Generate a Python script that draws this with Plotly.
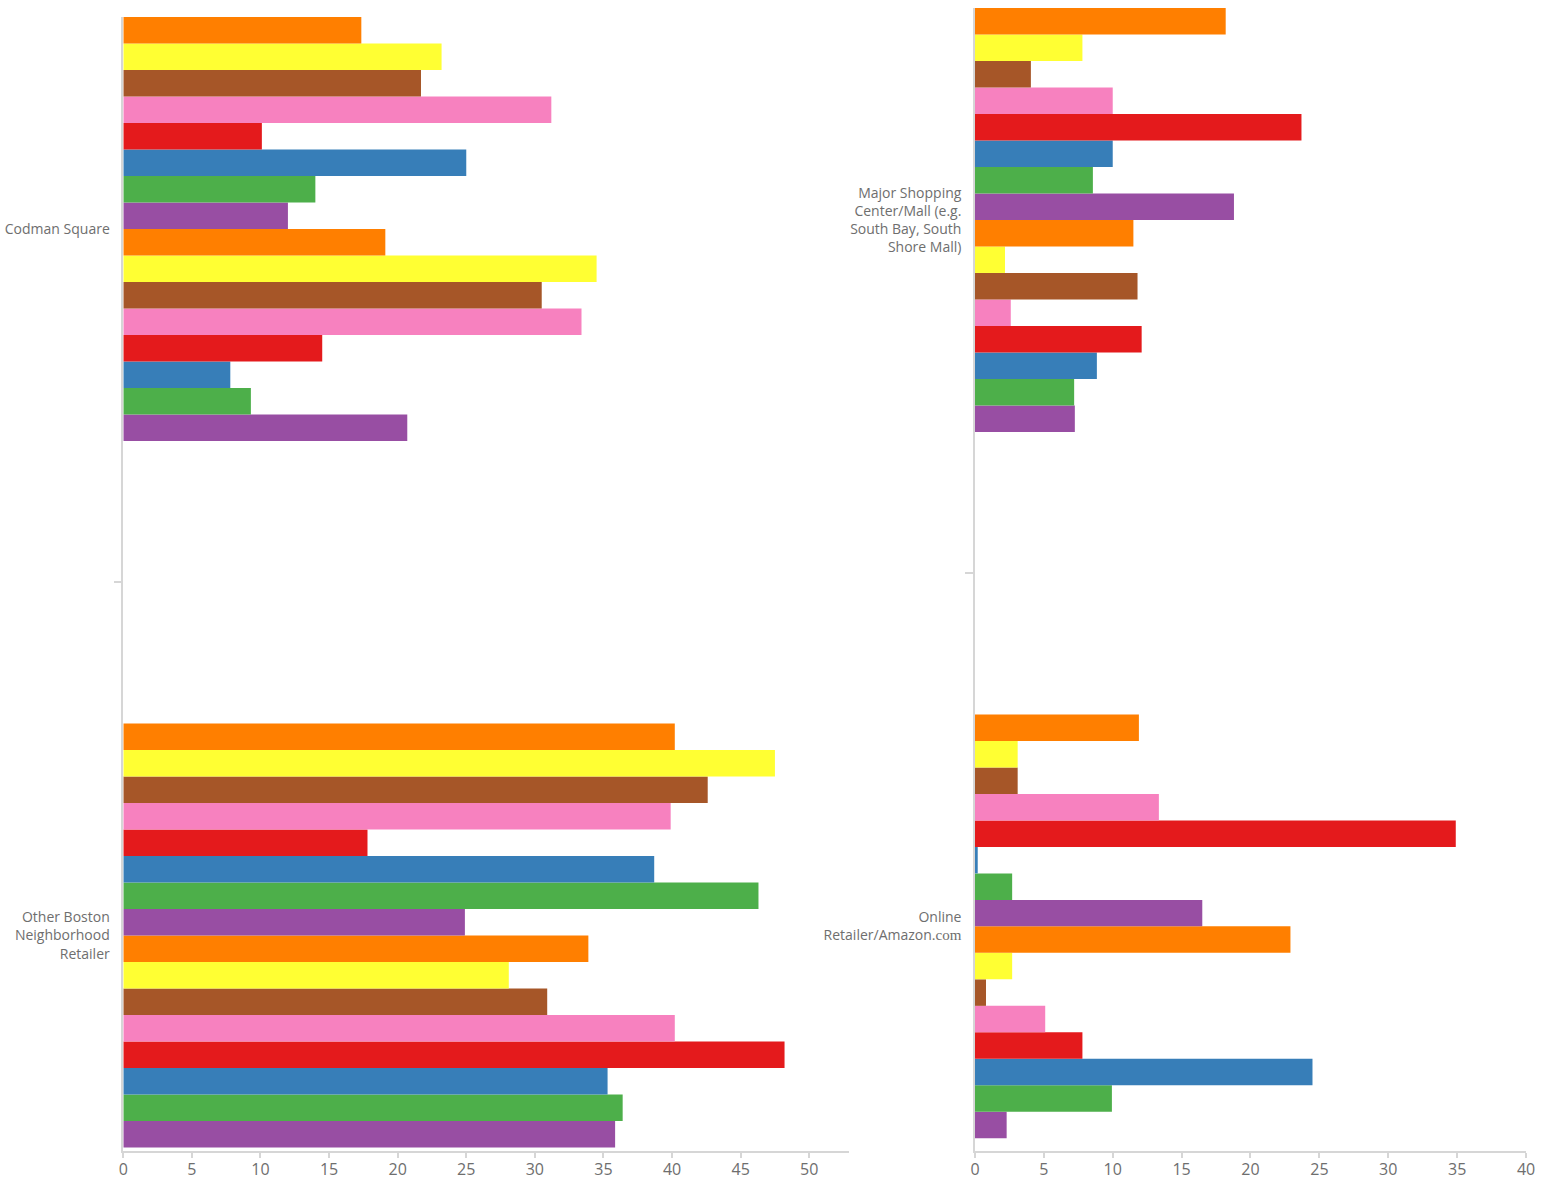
import plotly.graph_objects as go

# Categories (bottom to top on each axis)
left_categories = ["Other Boston<br>Neighborhood<br>Retailer", "Codman Square"]
right_categories = [
    "Online<br>Retailer/Amazon<span style=\"font-family:Liberation Serif,serif;font-size:15px\">.com</span>",
    "Major Shopping<br>Center/Mall (e.g.<br>South Bay, South<br>Shore Mall)",
]

# Series names and colours, listed top-to-bottom as drawn within each group
series_names = [f"Series {i}" for i in range(1, 17)]
series_colors = ["#ff7f00", "#ffff33", "#a65628", "#f781bf",
                 "#e41a1c", "#377eb8", "#4daf4a", "#984ea3"] * 2

# Values, listed top-to-bottom within each group
codman_square = [17.35, 23.2, 21.7, 31.2, 10.1, 25.0, 14.0, 12.0,
                 19.1, 34.5, 30.5, 33.4, 14.5, 7.8, 9.3, 20.7]
other_boston = [40.2, 47.5, 42.6, 39.9, 17.8, 38.7, 46.3, 24.9,
                33.9, 28.1, 30.9, 40.2, 48.2, 35.3, 36.4, 35.85]
major_mall = [18.2, 7.8, 4.06, 10.0, 23.7, 10.0, 8.56, 18.8,
              11.5, 2.18, 11.8, 2.6, 12.1, 8.85, 7.2, 7.25]
online_amazon = [11.9, 3.1, 3.1, 13.35, 34.9, 0.2, 2.7, 16.5,
                 22.9, 2.7, 0.8, 5.1, 7.8, 24.5, 9.94, 2.3]

x_ticks_left = [0, 5, 10, 15, 20, 25, 30, 35, 40, 45, 50]
x_ticks_right = [0, 5, 10, 15, 20, 25, 30, 35, 40]

fig = go.Figure()

n = len(series_names)
# plotly stacks horizontal group bars bottom-up, so add traces in reverse
for i in reversed(range(n)):
    fig.add_trace(go.Bar(
        orientation="h",
        name=series_names[i],
        y=left_categories,
        x=[other_boston[i], codman_square[i]],
        marker=dict(color=series_colors[i], line=dict(width=0)),
        xaxis="x", yaxis="y", showlegend=False,
    ))
for i in reversed(range(n)):
    fig.add_trace(go.Bar(
        orientation="h",
        name=series_names[i],
        y=right_categories,
        x=[online_amazon[i], major_mall[i]],
        marker=dict(color=series_colors[i], line=dict(width=0)),
        xaxis="x2", yaxis="y2", showlegend=False,
    ))

axis_line = "#d6d6d6"
font_color = "#6e6e6e"
font_family = "Open Sans, Noto Sans, sans-serif"

common_x = dict(
    showgrid=False, zeroline=False, showline=True, linecolor=axis_line, linewidth=1.5,
    ticks="outside", ticklen=5, tickcolor=axis_line, tickwidth=1.5,
    ticklabelstandoff=-2,
    tickfont=dict(size=16, color=font_color), automargin=False, fixedrange=True,
)
common_y = dict(
    type="category", showgrid=False, zeroline=False, showline=True,
    linecolor=axis_line, linewidth=1.5, ticks="outside", ticklen=8,
    tickcolor=axis_line, tickwidth=1.5, tickson="boundaries",
    ticklabelstandoff=9,
    tickfont=dict(size=14, color=font_color), automargin=False,
)

fig.update_layout(
    width=1551, height=1184,
    margin=dict(l=0, r=0, t=0, b=33),
    paper_bgcolor="white", plot_bgcolor="white",
    font=dict(family=font_family, color=font_color, size=14),
    barmode="group", bargap=0.4, bargroupgap=0,
    showlegend=False,
    xaxis=dict(domain=[0.0795, 0.5474], range=[0, 52.9], anchor="y",
               tickvals=x_ticks_left, **common_x),
    yaxis=dict(domain=[0, 0.9852], range=[-0.305, 1.3], anchor="x",
               categoryorder="array", categoryarray=left_categories, **common_y),
    xaxis2=dict(domain=[0.6286, 0.9839], range=[0, 40], anchor="y2",
                tickvals=x_ticks_right, **common_x),
    yaxis2=dict(domain=[0, 0.9930], range=[-0.318, 1.3], anchor="x2",
                categoryorder="array", categoryarray=right_categories, **common_y),
)

fig.write_html(
    "out.html",
    config={"displayModeBar": False},
    post_script="document.body.style.margin='0';document.body.style.overflow='hidden';",
)
